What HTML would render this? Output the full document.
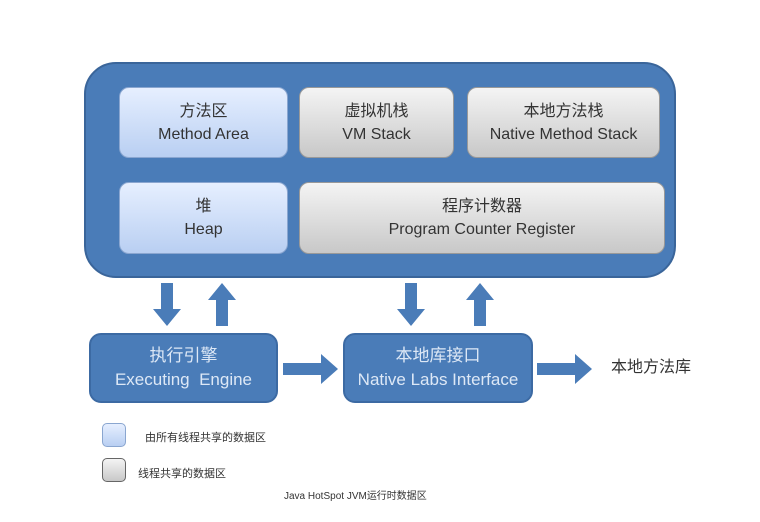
<!DOCTYPE html>
<html><head><meta charset="utf-8"><style>
body{margin:0;width:760px;height:522px;background:#fff;position:relative;overflow:hidden;font-family:"Liberation Sans","Noto Sans CJK SC",sans-serif}
.a{position:absolute}
.outer{left:84px;top:62px;width:592px;height:216px;border-radius:32px;background:#4a7cb8;border:2px solid #3a659a;box-sizing:border-box}
.bx{position:absolute;box-sizing:border-box;border-radius:10px;display:flex;flex-direction:column;align-items:center;justify-content:center;font-size:16px;line-height:23px;color:#333}
.blue{background:linear-gradient(#e6efff,#b9cff2);border:1px solid #8aa6d0}
.gray{background:linear-gradient(#f4f4f4,#c8c8c8);border:1px solid #999}
.db{background:#4a7cb8;border:2px solid #3c6aa3;color:#dde8f6;font-size:17px;line-height:24px}
</style></head><body>
<div class="a outer"></div>
<div class="bx blue" style="left:119px;top:87px;width:169px;height:71px"><div>方法区</div><div>Method Area</div></div>
<div class="bx gray" style="left:299px;top:87px;width:155px;height:71px"><div>虚拟机栈</div><div>VM Stack</div></div>
<div class="bx gray" style="left:467px;top:87px;width:193px;height:71px"><div>本地方法栈</div><div>Native Method Stack</div></div>
<div class="bx blue" style="left:119px;top:182px;width:169px;height:72px"><div>堆</div><div>Heap</div></div>
<div class="bx gray" style="left:299px;top:182px;width:366px;height:72px"><div>程序计数器</div><div>Program Counter Register</div></div>
<svg class="a" style="left:0;top:0" width="760" height="522">
<g fill="#4a7cb8">
<polygon points="161,283 173,283 173,309 181,309 167,326 153,309 161,309"/>
<polygon points="216,326 228,326 228,300 236,300 222,283 208,300 216,300"/>
<polygon points="405,283 417,283 417,309 425,309 411,326 397,309 405,309"/>
<polygon points="474,326 486,326 486,300 494,300 480,283 466,300 474,300"/>
<polygon points="283,363 321,363 321,354 338,369 321,384 321,375 283,375"/>
<polygon points="537,363 575,363 575,354 592,369 575,384 575,375 537,375"/>
</g></svg>
<div class="bx db" style="left:89px;top:333px;width:189px;height:70px;border-radius:12px"><div>执行引擎</div><div>Executing&nbsp; Engine</div></div>
<div class="bx db" style="left:343px;top:333px;width:190px;height:70px;border-radius:12px"><div>本地库接口</div><div>Native Labs Interface</div></div>
<div class="a" style="left:611px;top:353px;font-size:16px;color:#333">本地方法库</div>
<div class="bx blue" style="left:102px;top:423px;width:24px;height:24px;border-radius:5px"></div>
<div class="bx gray" style="left:102px;top:458px;width:24px;height:24px;border-radius:5px;border-color:#666"></div>
<div class="a" style="left:145px;top:429px;font-size:11px;color:#333">由所有线程共享的数据区</div>
<div class="a" style="left:138px;top:465px;font-size:11px;color:#333">线程共享的数据区</div>
<div class="a" style="left:284px;top:487px;font-size:10px;color:#333">Java HotSpot JVM运行时数据区</div>
</body></html>
